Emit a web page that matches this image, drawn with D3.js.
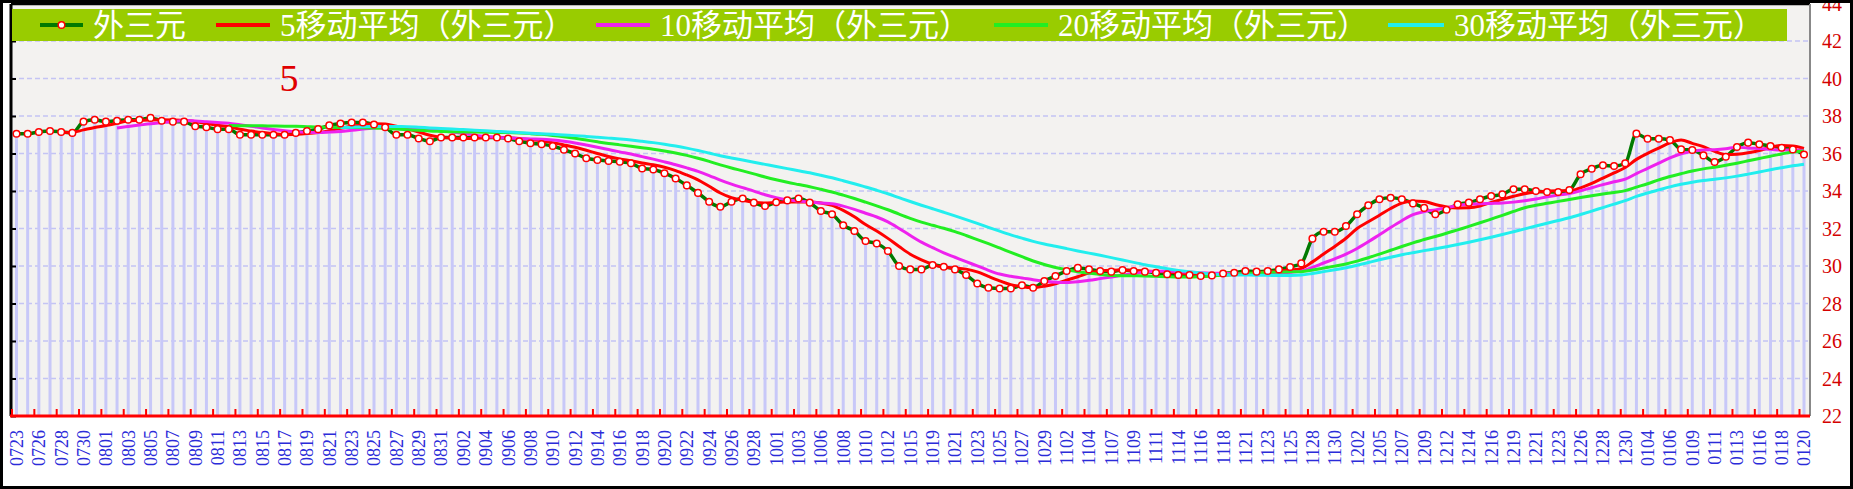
<!DOCTYPE html>
<html><head><meta charset="utf-8">
<script src="https://cdn.jsdelivr.net/npm/d3@7"></script>
<style>html,body{margin:0;padding:0;background:#fff;}svg{display:block;}</style>
</head><body>
<svg id="chart" width="1853" height="489"></svg>
<script>
// ---------- data ----------
const dates = [
"0723","0725","0726","0727","0728","0729","0730","0731","0801","0802",
"0803","0804","0805","0806","0807","0808","0809","0810","0811","0812",
"0813","0814","0815","0816","0817","0818","0819","0820","0821","0822",
"0823","0824","0825","0826","0827","0828","0829","0830","0831","0901",
"0902","0903","0904","0905","0906","0907","0908","0909","0910","0911",
"0912","0913","0914","0915","0916","0917","0918","0919","0920","0921",
"0922","0923","0924","0925","0926","0927","0928","0929","1001","1002",
"1003","1005","1006","1007","1008","1009","1010","1011","1012","1013",
"1015","1016","1019","1020","1021","1022","1023","1024","1025","1026",
"1027","1028","1029","1031","1102","1103","1104","1105","1107","1108",
"1109","1110","1111","1112","1114","1115","1116","1117","1118","1119",
"1121","1122","1123","1124","1125","1126","1128","1129","1130","1201",
"1202","1203","1205","1206","1207","1208","1209","1210","1212","1213",
"1214","1215","1216","1217","1219","1220","1221","1222","1223","1224",
"1226","1227","1228","1229","1230","1231","0104","0105","0106","0107",
"0109","0110","0111","0112","0113","0114","0116","0117","0118","0119",
"0120"];

const mainValues = [
37.05,37.05,37.15,37.2,37.15,37.1,37.7,37.8,37.7,37.75,
37.8,37.8,37.9,37.75,37.7,37.7,37.45,37.4,37.3,37.3,
37.0,37.0,37.0,37.0,37.0,37.1,37.2,37.3,37.5,37.6,
37.65,37.65,37.55,37.4,37.0,37.0,36.8,36.65,36.85,36.85,
36.85,36.85,36.85,36.85,36.8,36.65,36.55,36.5,36.4,36.2,
36.0,35.75,35.65,35.6,35.56,35.48,35.2,35.15,34.95,34.67,
34.3,33.9,33.43,33.16,33.43,33.6,33.38,33.2,33.4,33.5,
33.6,33.38,32.93,32.76,32.17,31.87,31.33,31.2,30.8,30.0,
29.82,29.82,30.05,29.96,29.82,29.52,29.07,28.84,28.8,28.8,
28.97,28.84,29.2,29.47,29.73,29.9,29.82,29.73,29.7,29.79,
29.73,29.7,29.64,29.56,29.52,29.52,29.47,29.5,29.6,29.64,
29.73,29.7,29.73,29.82,29.95,30.14,31.46,31.83,31.83,32.13,
32.76,33.24,33.56,33.64,33.56,33.34,33.1,32.76,33.0,33.29,
33.38,33.56,33.73,33.82,34.09,34.09,34.0,33.95,33.95,34.05,
34.89,35.19,35.37,35.33,35.48,37.06,36.79,36.79,36.72,36.22,
36.19,35.9,35.55,35.83,36.35,36.58,36.49,36.4,36.31,36.22,
35.95];

const yTicks = [22,24,26,28,30,32,34,36,38,40,42,44];
const seriesNames = ["外三元","5移动平均（外三元）","10移动平均（外三元）","20移动平均（外三元）","30移动平均（外三元）"];
const maWindows = [5,10,20,30];
const seriesColors = ["#007a00","#ff0000","#ee22ee","#22ee22","#22eeee"];

// ---------- layout ----------
const svg = d3.select("#chart");
const P = {left:11, right:1810, top:4, bottom:416};
const x = d3.scalePoint().domain(dates).range([16.5, 1804]);
const y = d3.scaleLinear().domain([22,44]).range([416, 3.5]);

// moving averages of the main series (as named in the legend)
function movingAverage(vals, n){
  return vals.map((v,i)=> i < n-1 ? null : d3.mean(vals.slice(i-n+1, i+1)));
}
const maSeries = maWindows.map(n => movingAverage(mainValues, n));

// background
svg.append("rect").attr("x",0).attr("y",0).attr("width",1853).attr("height",489).attr("fill","#fff");
svg.append("rect").attr("x",P.left).attr("y",P.top).attr("width",P.right-P.left).attr("height",P.bottom-P.top)
  .attr("fill","#f3f2f0");

// grid lines
svg.append("g").selectAll("line").data(yTicks.filter(t=>t>22 && t<44)).join("line")
  .attr("x1",P.left).attr("x2",P.right).attr("y1",d=>y(d)).attr("y2",d=>y(d))
  .attr("stroke","#c4c4f4").attr("stroke-width",1.6).attr("stroke-dasharray","5,3");

// bars of main series
svg.append("g").selectAll("rect").data(mainValues).join("rect")
  .attr("x",(d,i)=>x(dates[i])-1.5).attr("width",3)
  .attr("y",d=>y(d)).attr("height",d=>y(22)-y(d))
  .attr("fill","#c8c8f8");

// main line
const lineGen = d3.line().defined(d=>d!=null)
  .x((d,i)=>x(dates[i])).y(d=>y(d)).curve(d3.curveMonotoneX);
svg.append("path").datum(mainValues).attr("d",lineGen)
  .attr("fill","none").attr("stroke",seriesColors[0]).attr("stroke-width",3.5);

// moving average lines
maSeries.forEach((s,k)=>{
  svg.append("path").datum(s).attr("d",lineGen)
    .attr("fill","none").attr("stroke",seriesColors[k+1]).attr("stroke-width",3);
});

// markers
svg.append("g").selectAll("circle").data(mainValues).join("circle")
  .attr("cx",(d,i)=>x(dates[i])).attr("cy",d=>y(d)).attr("r",3.3)
  .attr("fill","#fff").attr("stroke","#ff0000").attr("stroke-width",1.5);

// left axis (black, ticks inward)
const gl = svg.append("g").attr("transform",`translate(${P.left},0)`)
  .call(d3.axisRight(y).tickValues(yTicks).tickSize(5).tickFormat(""));
gl.select(".domain").remove();
gl.selectAll(".tick line").attr("stroke","#000").attr("stroke-width",2);
svg.append("line").attr("x1",P.left).attr("x2",P.left).attr("y1",P.top).attr("y2",P.bottom)
  .attr("stroke","#000").attr("stroke-width",3);
// top border
svg.append("line").attr("x1",P.left).attr("x2",P.right).attr("y1",P.top).attr("y2",P.top)
  .attr("stroke","#000").attr("stroke-width",2.5);

// right axis (gray line, red labels)
const gr = svg.append("g").attr("transform",`translate(${P.right},0)`)
  .call(d3.axisRight(y).tickValues(yTicks).tickSize(0).tickPadding(12));
gr.select(".domain").remove();
gr.selectAll(".tick text").attr("fill","#d40000")
  .style("font-family","'Liberation Serif', serif").style("font-size","20px").attr("dy","0.33em");
svg.append("line").attr("x1",P.right).attr("x2",P.right).attr("y1",P.top).attr("y2",P.bottom)
  .attr("stroke","#888").attr("stroke-width",2);

// bottom axis (red)
const evenDates = dates.filter((d,i)=>i%2===0);
const gb = svg.append("g").attr("transform",`translate(0,${P.bottom})`)
  .call(d3.axisBottom(x).tickValues(evenDates).tickSize(-7).tickPadding(0));
gb.select(".domain").remove();
gb.selectAll(".tick line").attr("x1",-5).attr("x2",-5).attr("stroke","#ff0000").attr("stroke-width",2);
gb.selectAll(".tick text").attr("transform","rotate(-90)")
  .attr("text-anchor","end").attr("x",-14).attr("y",0).attr("dy","0.33em")
  .attr("fill","#2b2bd9")
  .style("font-family","'Liberation Serif', serif").style("font-size","18px");
svg.append("line").attr("x1",P.left-1).attr("x2",P.right).attr("y1",P.bottom).attr("y2",P.bottom)
  .attr("stroke","#ff0000").attr("stroke-width",3);

// legend
svg.append("rect").attr("x",12).attr("y",9).attr("width",1775).attr("height",32).attr("fill","#99cc00");
const legLineX = [40,216,596,994,1388];
const legLineW = [43,54,54,54,56];
const legTextX = [93,280,660,1058,1454];
const legY = 25;
seriesNames.forEach((name,k)=>{
  svg.append("line").attr("x1",legLineX[k]).attr("x2",legLineX[k]+legLineW[k])
    .attr("y1",legY).attr("y2",legY).attr("stroke",seriesColors[k]).attr("stroke-width",4);
  if(k===0){
    svg.append("circle").attr("cx",legLineX[k]+legLineW[k]/2).attr("cy",legY).attr("r",3.3)
      .attr("fill","#fff").attr("stroke","#ff0000").attr("stroke-width",1.5);
  }
  svg.append("text").attr("x",legTextX[k]).attr("y",36).text(name)
    .attr("fill","#fff")
    .style("font-family","'Liberation Serif','Noto Sans CJK SC',serif").style("font-size","31px");
});

// red annotation
svg.append("text").attr("x",289).attr("y",91).attr("text-anchor","middle").text("5")
  .attr("fill","#e00000").style("font-family","'Liberation Serif', serif").style("font-size","38px");

// outer frame
svg.append("rect").attr("x",1.5).attr("y",1.5).attr("width",1850).attr("height",486)
  .attr("fill","none").attr("stroke","#000").attr("stroke-width",3);
</script>
</body></html>
